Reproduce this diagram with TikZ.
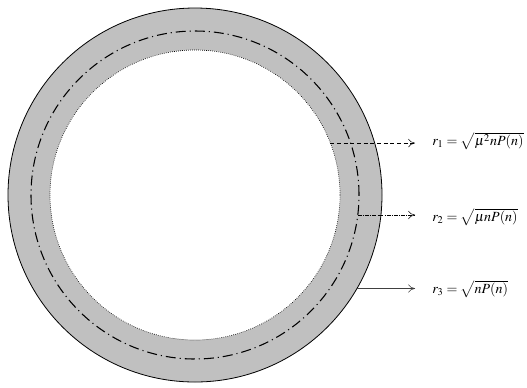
\documentclass[tikz,border=0pt]{standalone}
\usepackage{mathptmx}
\usepackage{tikz}
\usetikzlibrary{arrows.meta,calc,positioning}
\definecolor{ringgray}{RGB}{192,192,192}

\begin{document}
\begin{tikzpicture}[
  x=0.75pt,
  y=-0.75pt,
  ring/.style={
    circle,
    inner sep=0pt,
    outer sep=0pt,
    draw=black
  },
  pointer/.style={
    -{To[length=1.8mm,width=2.2mm]},
    thin,
    shorten >=12.75pt
  },
  tag/.style={
    anchor=west,
    inner sep=0pt,
    font=\fontsize{10.5}{12}\selectfont
  }
]
\useasboundingbox (0,0) rectangle (527,387);

% Rings of the annulus
\node[ring, fill=ringgray, line width=0.6pt, minimum size=280.5pt]
  (outer) at (195,195) {};
\node[ring, fill=white, densely dotted, line width=0.5pt, minimum size=217.5pt]
  (inner) at (195,195) {};
\node[ring, line width=0.8pt, dash pattern=on 7.5pt off 3pt on 0.8pt off 3pt,
  minimum size=246pt]
  (mid) at (195,195) {};

% Radius labels
\node[tag] (lab1) at (432,141) {$r_1=\sqrt{\mu^2 nP(n)}$};
\node[tag] (lab2) at (432,217) {$r_2=\sqrt{\mu nP(n)}$};
\node[tag] (lab3) at (432,289) {$r_3=\sqrt{nP(n)}$};

\draw[pointer, densely dashed]
  (inner.21.86) -- (inner.21.86 -| lab1.west);
\draw[pointer, densely dashdotted]
  (mid.-7.71) -- (mid.-7.71 -| lab2.west);
\draw[pointer, black!75]
  (outer.-30.18) -- (outer.-30.18 -| lab3.west);

\end{tikzpicture}
\end{document}
